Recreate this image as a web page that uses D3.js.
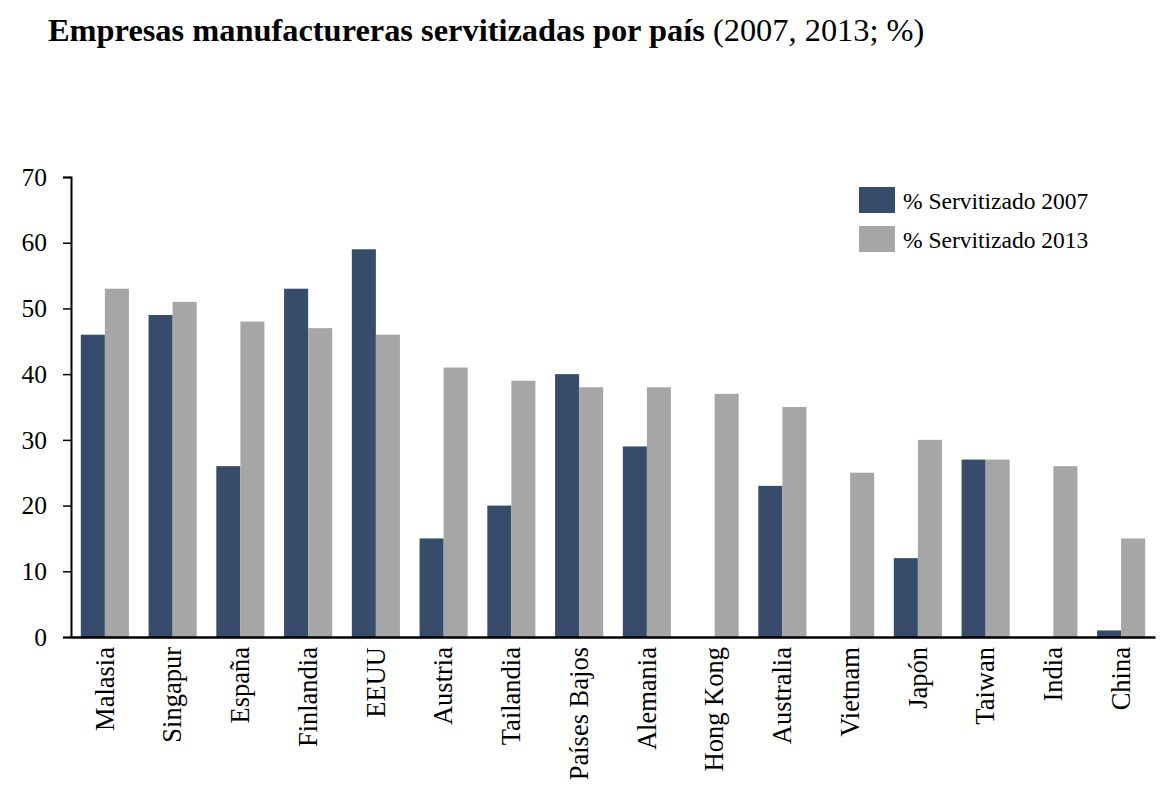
<!DOCTYPE html>
<html>
<head>
<meta charset="utf-8">
<script src="https://cdn.jsdelivr.net/npm/d3@7"></script>
<style>
  body { margin: 0; background: #fff; }
  svg { display: block; }
  text { font-family: "Liberation Serif", "DejaVu Serif", serif; fill: #000; }
</style>
</head>
<body>
<svg id="chart" width="1168" height="802"></svg>
<script>
const categories = ["Malasia","Singapur","España","Finlandia","EEUU","Austria","Tailandia","Países Bajos","Alemania","Hong Kong","Australia","Vietnam","Japón","Taiwan","India","China"];
const values2007 = [46, 49, 26, 53, 59, 15, 20, 40, 29, null, 23, null, 12, 27, null, 1];
const values2013 = [53, 51, 48, 47, 46, 41, 39, 38, 38, 37, 35, 25, 30, 27, 26, 15];
const seriesNames = ["% Servitizado 2007", "% Servitizado 2013"];
const seriesColors = ["#374C6B", "#A6A6A6"];
const yTicks = [0, 10, 20, 30, 40, 50, 60, 70];

const svg = d3.select("#chart");
const margin = {left: 71, right: 13, top: 177, bottom: 165};
const W = 1168, H = 802;
const x0 = margin.left, x1 = W - margin.right;
const yTop = margin.top, yBot = H - margin.bottom;

const x = d3.scaleBand().domain(categories).range([x0, x1]).paddingInner(0.29).paddingOuter(0.145);
const xs = d3.scaleBand().domain([0, 1]).range([0, x.bandwidth()]);
const y = d3.scaleLinear().domain([0, 70]).range([yBot, yTop]);

// Title
const title = svg.append("text").attr("x", 48).attr("y", 41).style("font-size", "32.4px");
title.append("tspan").style("font-weight", "bold").text("Empresas manufactureras servitizadas por país ");
title.append("tspan").text("(2007, 2013; %)");

// Bars
const series = [values2007, values2013];
series.forEach((vals, si) => {
  svg.append("g").selectAll("rect")
    .data(categories.map((c, i) => ({c, v: vals[i]})).filter(d => d.v != null && d.v > 0))
    .join("rect")
    .attr("x", d => x(d.c) + xs(si))
    .attr("width", xs.bandwidth())
    .attr("y", d => y(d.v))
    .attr("height", d => y(0) - y(d.v))
    .attr("fill", seriesColors[si]);
});

// Y axis
const yAxis = svg.append("g").attr("transform", `translate(${x0},0)`)
  .call(d3.axisLeft(y).tickValues(yTicks).tickSize(8).tickPadding(16).tickFormat(d3.format("d")));
yAxis.attr("font-family", null);
yAxis.select(".domain").attr("stroke", "#000").attr("stroke-width", 2);
yAxis.selectAll(".tick line").attr("stroke", "#000").attr("stroke-width", 1.5);
yAxis.selectAll(".tick text").style("font-size", "25.5px").style("font-family", '"Liberation Serif", serif');

// X axis
const xAxis = svg.append("g").attr("transform", `translate(0,${yBot})`)
  .call(d3.axisBottom(x).tickSize(0).tickSizeOuter(0));
xAxis.attr("font-family", null);
xAxis.select(".domain").attr("stroke", "#000").attr("stroke-width", 2.5);
xAxis.selectAll(".tick text")
  .style("font-size", "26.5px").style("font-family", '"Liberation Serif", serif')
  .attr("text-anchor", "end")
  .attr("transform", "rotate(-90)")
  .attr("x", -10).attr("y", 0).attr("dy", "0.33em");

// Legend
const legend = svg.append("g");
seriesNames.forEach((n, i) => {
  const g = legend.append("g").attr("transform", `translate(859,${187 + i * 39})`);
  g.append("rect").attr("width", 36).attr("height", 26).attr("fill", seriesColors[i]);
  g.append("text").attr("x", 44).attr("y", 22).style("font-size", "23.5px").text(n);
});
</script>
</body>
</html>
